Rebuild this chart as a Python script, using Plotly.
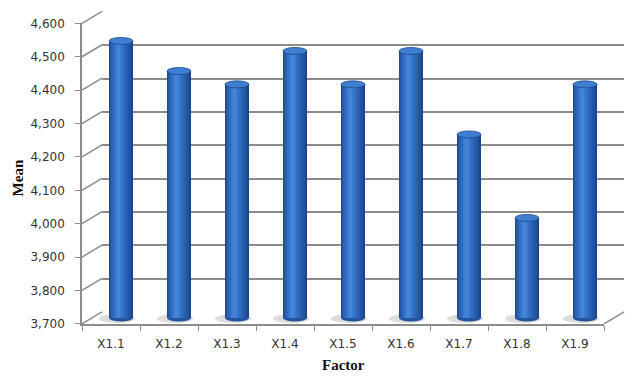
import plotly.graph_objects as go

# ---- data ----
categories = ["X1.1", "X1.2", "X1.3", "X1.4", "X1.5", "X1.6", "X1.7", "X1.8", "X1.9"]
means = [4.53, 4.44, 4.40, 4.50, 4.40, 4.50, 4.25, 4.00, 4.40]
tick_values = [3.7, 3.8, 3.9, 4.0, 4.1, 4.2, 4.3, 4.4, 4.5, 4.6]
tick_labels = ["3,700", "3,800", "3,900", "4,000", "4,100", "4,200", "4,300", "4,400", "4,500", "4,600"]

W, H = 644, 379
YMIN, YMAX = 3.7, 4.6
GRID = "#8c8c8c"


def xd(px0, px1):
    return [px0 / W, px1 / W]


def yd(py_bottom, py_top):
    return [1 - py_bottom / H, 1 - py_top / H]


fig = go.Figure()

# back wall subplot (gridlines) -> x / y
fig.add_trace(go.Scatter(x=categories, y=means, mode="markers", marker=dict(opacity=0),
                         hoverinfo="skip", showlegend=False, xaxis="x", yaxis="y"))

# cylinder bars (middle depth) -> x2 / y2, layered for shading
layers = [
    (0.414, 0.000, "#1b4784"),
    (0.370, -0.012, "#23539b"),
    (0.300, -0.025, "#2a60b1"),
    (0.215, -0.035, "#316dc2"),
    (0.130, -0.040, "#3979cf"),
    (0.060, -0.045, "#4485d9"),
]
for w, shift, col in layers:
    fig.add_trace(go.Bar(x=categories, y=means, width=w, offset=-w / 2 + shift,
                         marker=dict(color=col, line=dict(width=0)),
                         showlegend=False, xaxis="x2", yaxis="y2",
                         hovertemplate="%{x}: %{y}<extra></extra>"))

# front axes (labels) -> x3 / y3
fig.add_trace(go.Scatter(x=categories, y=means, mode="markers", marker=dict(opacity=0),
                         hoverinfo="skip", showlegend=False, xaxis="x3", yaxis="y3"))

shapes = []
# diagonal connectors from front axis ticks to back wall
for v in tick_values:
    shapes.append(dict(type="line", layer="below",
                       xref="x3 domain", xsizemode="pixel", xanchor=0, x0=0, x1=20,
                       yref="y3 domain", ysizemode="pixel", yanchor=(v - YMIN) / (YMAX - YMIN), y0=0, y1=12,
                       line=dict(color=GRID, width=1.5)))
# floor right edge
shapes.append(dict(type="line", layer="below",
                   xref="x3 domain", xsizemode="pixel", xanchor=1, x0=0, x1=20,
                   yref="y3 domain", ysizemode="pixel", yanchor=0, y0=0, y1=12,
                   line=dict(color=GRID, width=1.5)))

for i, v in enumerate(means):
    # floor shadow
    shapes.append(dict(type="circle", layer="below",
                       xref="x2", xsizemode="pixel", xanchor=i, x0=-22, x1=14,
                       yref="y2 domain", ysizemode="pixel", yanchor=0, y0=-5, y1=4,
                       fillcolor="rgba(180,180,180,0.45)", line=dict(width=0)))
    # bottom of cylinder
    shapes.append(dict(type="circle", layer="below",
                       xref="x2", xsizemode="pixel", xanchor=i, x0=-12, x1=12,
                       yref="y2 domain", ysizemode="pixel", yanchor=0, y0=-3.5, y1=3.5,
                       fillcolor="#23539b", line=dict(width=0)))
    # top cap
    shapes.append(dict(type="circle", layer="above",
                       xref="x2", xsizemode="pixel", xanchor=i, x0=-12, x1=12,
                       yref="y2", ysizemode="pixel", yanchor=v, y0=-3.5, y1=3.5,
                       fillcolor="#3f7fd3", line=dict(color="#1b4784", width=0.8)))

tick_font = dict(family="DejaVu Sans", size=12, color="#333333")
title_font = dict(family="Liberation Serif", size=15, color="#111111")

fig.update_layout(
    width=W, height=H,
    margin=dict(l=0, r=0, t=0, b=0),
    paper_bgcolor="white", plot_bgcolor="rgba(0,0,0,0)",
    barmode="overlay",
    showlegend=False,
    shapes=shapes,
    # back wall
    xaxis=dict(domain=xd(102, 624), anchor="y", type="category", range=[-0.5, 8.5],
               showgrid=False, showline=False, showticklabels=False, ticks="", zeroline=False),
    yaxis=dict(domain=yd(317, 5), anchor="x", range=[YMIN - 0.0006, YMAX + 0.0006],
               tickvals=tick_values, showticklabels=False, ticks="",
               showgrid=True, gridcolor=GRID, gridwidth=1.5, zeroline=False, showline=False),
    # bars (middle depth)
    xaxis2=dict(domain=xd(92, 614), anchor="y2", type="category", range=[-0.5, 8.5],
                showgrid=False, showline=False, showticklabels=False, ticks="", zeroline=False),
    yaxis2=dict(domain=yd(323, 11), anchor="x2", range=[YMIN, YMAX],
                showgrid=False, showline=False, showticklabels=False, ticks="", zeroline=False),
    # front axes
    xaxis3=dict(domain=xd(82, 604), anchor="y3", type="category", range=[-0.5, 8.5],
                showgrid=False, showline=True, linecolor=GRID, linewidth=1.5,
                ticks="outside", tickson="boundaries", ticklen=5, tickcolor=GRID, tickwidth=1,
                ticklabelstandoff=8, tickfont=tick_font, zeroline=False),
    yaxis3=dict(domain=yd(329, 17), anchor="x3", range=[YMIN, YMAX],
                tickvals=tick_values, ticktext=tick_labels,
                showgrid=False, showline=True, linecolor=GRID, linewidth=1.5,
                ticks="outside", ticklen=5, tickcolor=GRID, tickwidth=1,
                ticklabelstandoff=8, tickfont=tick_font, zeroline=False),
    annotations=[
        dict(text="<b>Mean</b>", xref="paper", yref="paper", x=18 / W, y=1 - 178 / H,
             textangle=-90, showarrow=False, font=title_font, xanchor="center", yanchor="middle"),
        dict(text="<b>Factor</b>", xref="paper", yref="paper", x=343 / W, y=1 - 372 / H,
             showarrow=False, font=title_font, xanchor="center", yanchor="middle"),
    ],
)

fig.write_html("out.html")
